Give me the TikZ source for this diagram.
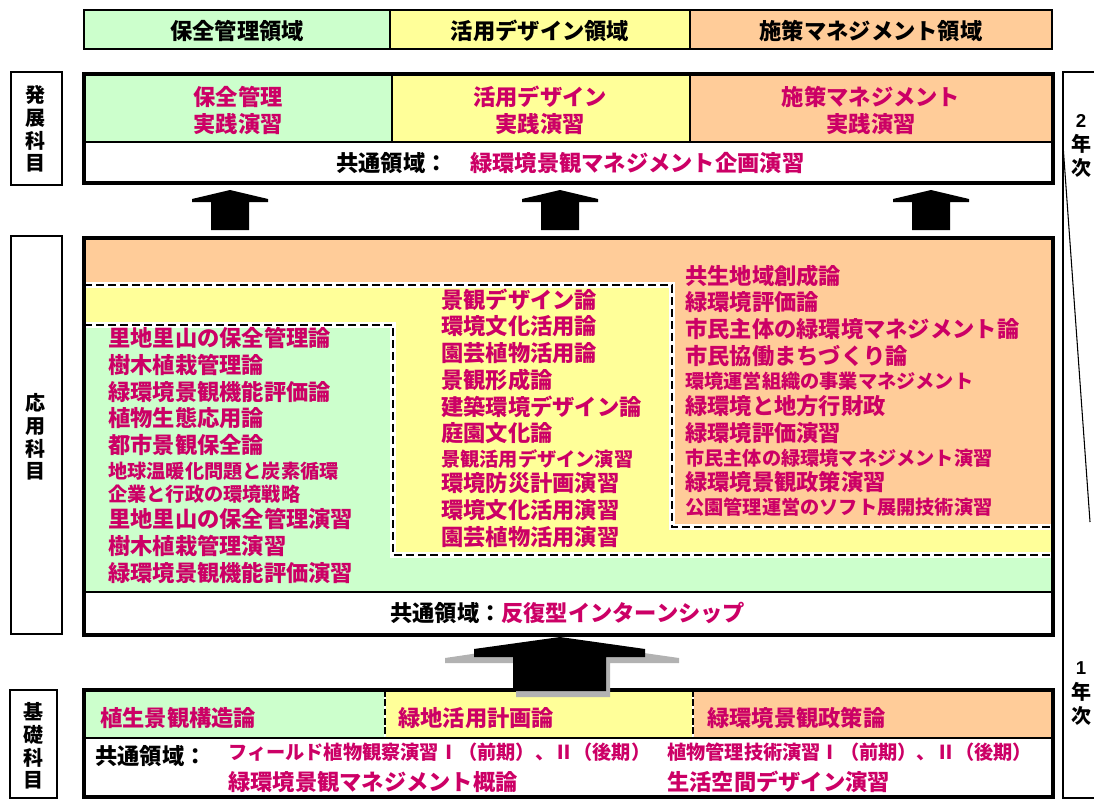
\documentclass[tikz,border=0pt]{standalone}
\usepackage{fontspec}
\setmainfont{Noto Sans CJK JP}
\newfontfamily\digitfont{Liberation Sans}
\definecolor{gr}{HTML}{CCFFCC}
\definecolor{ye}{HTML}{FFFF99}
\definecolor{orx}{HTML}{FFCC99}
\definecolor{mag}{HTML}{CC0066}
\begin{document}
\begin{tikzpicture}[x=0.75pt,y=-0.75pt,
  big/.style={inner sep=0pt, anchor=west, text=mag, font=\fontsize{16.7}{18}\selectfont\bfseries, text height=14.6pt, text depth=2pt},
  sml/.style={big, font=\fontsize{14.4}{16}\selectfont\bfseries, text height=12.6pt, text depth=1.7pt},
  blk/.style={text=black},
  ctr/.style={anchor=center},
  lab/.style={inner sep=0pt, anchor=center, align=center, text=black, font=\fontsize{15}{16.9}\selectfont\bfseries},
  yr/.style={inner sep=0pt, anchor=center, text=black, font=\fontsize{15}{16}\selectfont\bfseries},
  yd/.style={inner sep=0pt, anchor=center, text=black, font=\digitfont\fontsize{14}{15}\selectfont\bfseries},
  thinbox/.style={draw=black, line width=0.8pt},
  frame/.style={draw=black, line width=3pt},
  divider/.style={draw=black, line width=1.2pt},
  whiteband/.style={draw=white, line width=4.5pt},
  dashline/.style={draw=black, line width=1.5pt, dash pattern=on 6pt off 3pt},
]
\useasboundingbox (0,0) rectangle (1094,800);

% ---------- header row ----------
\filldraw[fill=gr, thinbox] (84,10) rectangle (390,49);
\filldraw[fill=ye, thinbox] (390,10) rectangle (690,49);
\filldraw[fill=orx, thinbox] (690,10) rectangle (1052,49);
\node[big, blk, ctr] (h1) at (237,31) {保全管理領域};
\node[big, blk, ctr] (h2) at (540,31) {活用デザイン領域};
\node[big, blk, ctr] (h3) at (871,31) {施策マネジメント領域};

% ---------- left labels ----------
\draw[thinbox] (11,72) rectangle (62,185);
\node[lab] (l1) at (36,129) {発\\展\\科\\目};
\draw[thinbox] (11,236) rectangle (62,634);
\node[lab] (l2) at (36,437) {応\\用\\科\\目};
\draw[thinbox] (10,690) rectangle (57,798);
\node[lab] (l3) at (33,746) {基\\礎\\科\\目};

% ---------- right year box ----------
\draw[thinbox] (1063,72) rectangle (1110,798);
\draw[line width=0.8pt] (1063,145) -- (1090,522);
\node[yd] (y2) at (1081,121) {2};
\node[yr] (y2a) at (1081,144) {年};
\node[yr] (y2b) at (1081,168) {次};
\node[yd] (y1) at (1081,668) {1};
\node[yr] (y1a) at (1081,692) {年};
\node[yr] (y1b) at (1081,716) {次};

% ---------- 発展科目 box ----------
\fill[gr] (84,74) rectangle (392,142);
\fill[ye] (392,74) rectangle (690,142);
\fill[orx] (690,74) rectangle (1053,142);
\fill[white] (84,142) rectangle (1053,183);
\draw[divider] (392,74) -- (392,142);
\draw[divider] (690,74) -- (690,142);
\draw[divider] (84,142) -- (1053,142);
\draw[frame] (84,74) rectangle (1053,183);
\node[big, ctr] (d1a) at (238,97) {保全管理};
\node[big, ctr] (d1b) at (238,124) {実践演習};
\node[big, ctr] (d2a) at (540,97) {活用デザイン};
\node[big, ctr] (d2b) at (540,124) {実践演習};
\node[big, ctr] (d3a) at (871,97) {施策マネジメント};
\node[big, ctr] (d3b) at (871,124) {実践演習};
\node[big, blk] (dc) at (336,163) {共通領域：};
\node[big] (dcm) at (470,163) {緑環境景観マネジメント企画演習};

% ---------- small arrows ----------
\foreach \cx in {230,560,931}{
  \fill[black] ({\cx},190) -- ({\cx+38},199) -- ({\cx+38},202) -- ({\cx+19},202) -- ({\cx+19},230)
     -- ({\cx-19},230) -- ({\cx-19},202) -- ({\cx-38},202) -- ({\cx-38},199) -- cycle;
}

% ---------- 応用科目 box ----------
\fill[orx] (84,238) rectangle (1053,592);
\fill[ye] (84,285) -- (672,285) -- (672,527) -- (1053,527) -- (1053,592) -- (84,592) -- cycle;
\fill[gr] (84,325) -- (393,325) -- (393,555) -- (1053,555) -- (1053,592) -- (84,592) -- cycle;
\fill[white] (84,592) rectangle (1053,635);
\draw[whiteband] (84,285) -- (672,285) -- (672,527) -- (1053,527);
\draw[dashline] (84,285) -- (672,285) -- (672,527) -- (1053,527);
\draw[whiteband] (84,325) -- (393,325) -- (393,555) -- (1053,555);
\draw[dashline] (84,325) -- (393,325) -- (393,555) -- (1053,555);
\draw[divider] (84,592) -- (1053,592);
\draw[frame] (84,238) rectangle (1053,635);

% left column
\node[big] (a1) at (108,338) {里地里山の保全管理論};
\node[big] (a2) at (108,365) {樹木植栽管理論};
\node[big] (a3) at (108,392) {緑環境景観機能評価論};
\node[big] (a4) at (108,418) {植物生態応用論};
\node[big] (a5) at (108,445) {都市景観保全論};
\node[sml] (a6) at (108,471) {地球温暖化問題と炭素循環};
\node[sml] (a7) at (108,494) {企業と行政の環境戦略};
\node[big] (a8) at (108,519) {里地里山の保全管理演習};
\node[big] (a9) at (108,546) {樹木植栽管理演習};
\node[big] (a10) at (108,573) {緑環境景観機能評価演習};
% middle column
\node[big] (b1) at (441,300) {景観デザイン論};
\node[big] (b2) at (441,326) {環境文化活用論};
\node[big] (b3) at (441,353) {園芸植物活用論};
\node[big] (b4) at (441,380) {景観形成論};
\node[big] (b5) at (441,407) {建築環境デザイン論};
\node[big] (b6) at (441,433) {庭園文化論};
\node[sml] (b7) at (441,459) {景観活用デザイン演習};
\node[big] (b8) at (441,483) {環境防災計画演習};
\node[big] (b9) at (441,510) {環境文化活用演習};
\node[big] (b10) at (441,537) {園芸植物活用演習};
% right column
\node[big] (c1) at (685,276) {共生地域創成論};
\node[big] (c2) at (685,302) {緑環境評価論};
\node[big] (c3) at (685,329) {市民主体の緑環境マネジメント論};
\node[big] (c4) at (685,356) {市民協働まちづくり論};
\node[sml] (c5) at (685,381) {環境運営組織の事業マネジメント};
\node[big] (c6) at (685,406) {緑環境と地方行財政};
\node[big] (c7) at (685,433) {緑環境評価演習};
\node[sml] (c8) at (685,458) {市民主体の緑環境マネジメント演習};
\node[big] (c9) at (685,482) {緑環境景観政策演習};
\node[sml] (c10) at (685,507) {公園管理運営のソフト展開技術演習};
% common
\node[big, blk] (ac) at (390,613) {共通領域：};
\node[big] (acm) at (501,613) {反復型インターンシップ};

% ---------- 基礎科目 box ----------
\fill[gr] (84,690) rectangle (385,738);
\fill[ye] (385,690) rectangle (693,738);
\fill[orx] (693,690) rectangle (1053,738);
\fill[white] (84,738) rectangle (1053,797);
\draw[draw=white, line width=2pt] (385,690) -- (385,738);
\draw[draw=black, line width=1.2pt, dash pattern=on 5pt off 2pt] (385,690) -- (385,738);
\draw[draw=white, line width=2pt] (693,690) -- (693,738);
\draw[draw=black, line width=1.2pt, dash pattern=on 5pt off 2pt] (693,690) -- (693,738);
\draw[divider] (84,738) -- (1053,738);
\draw[frame] (84,690) rectangle (1053,797);
\node[big] (k1) at (100,718) {植生景観構造論};
\node[big] (k2) at (398,718) {緑地活用計画論};
\node[big] (k3) at (707,718) {緑環境景観政策論};
\node[big, blk] (kc) at (95,756) {共通領域：};
\node[sml] (k4) at (228,752) {フィールド植物観察演習Ⅰ（前期）、Ⅱ（後期）};
\node[big] (k5) at (228,782) {緑環境景観マネジメント概論};
\node[sml] (k6) at (667,752) {植物管理技術演習Ⅰ（前期）、Ⅱ（後期）};
\node[big] (k7) at (667,782) {生活空間デザイン演習};

% ---------- big arrow with shadow ----------
\fill[black!30] (560,641) -- (679,658) -- (679,663) -- (610,663) -- (610,697) -- (516,697)
  -- (516,663) -- (445,663) -- (445,658) -- cycle;
\fill[black] (560,637) -- (645,649) -- (645,657) -- (606,657) -- (606,691) -- (513,691)
  -- (513,657) -- (474,657) -- (474,649) -- cycle;
\end{tikzpicture}
\end{document}
